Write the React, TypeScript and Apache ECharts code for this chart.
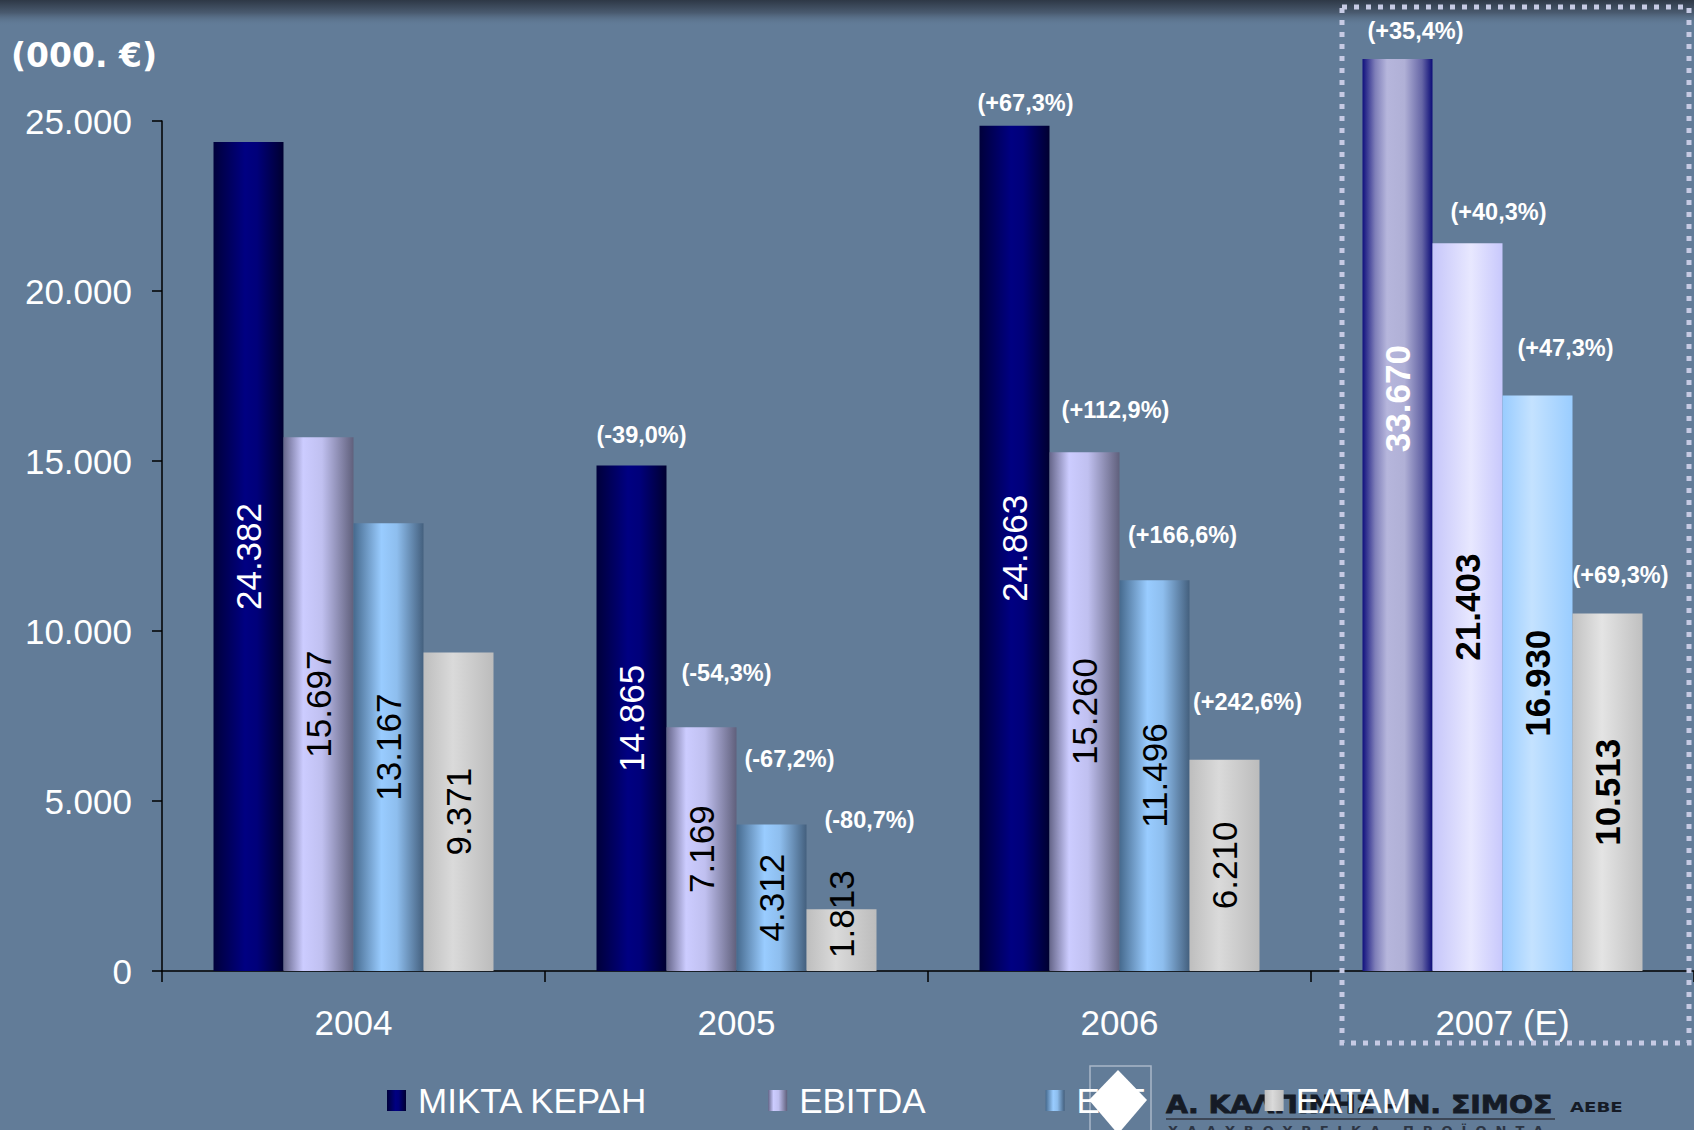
import React, { useEffect, useRef } from "react";
import * as echarts from "echarts";

// ---------- data ----------
const YEARS = ["2004", "2005", "2006", "2007 (E)"];
const SERIES_NAMES = ["ΜΙΚΤΑ ΚΕΡΔΗ", "EBITDA", "EBT", "EATAM"];

const GROSS = [24382, 14865, 24863, 33670];
const EBITDA = [15697, 7169, 15260, 21403];
const EBT = [13167, 4312, 11496, 16930];
const EATAM = [9371, 1813, 6210, 10513];

const GROSS_CHG = [null, -39.0, 67.3, 35.4];
const EBITDA_CHG = [null, -54.3, 112.9, 40.3];
const EBT_CHG = [null, -67.2, 166.6, 47.3];
const EATAM_CHG = [null, -80.7, 242.6, 69.3];

const Y_MIN = 0;
const Y_MAX = 25000;
const Y_STEP = 5000;

const VALUES = [GROSS, EBITDA, EBT, EATAM];
const CHANGES = [GROSS_CHG, EBITDA_CHG, EBT_CHG, EATAM_CHG];

// ---------- layout / style ----------
const W = 1694;
const H = 1130;
const BG = "#627c98";
const FONT = "'Liberation Sans', Arial, sans-serif";
const GRID_LEFT = 162;
const GRID_WIDTH = 1536;
const AXIS_TOP = 121; // pixel of Y_MAX
const BASE_Y = 971; // pixel of 0
const CLIP_TOP = 59; // where the tall forecast bar is cut off
const PX_PER_UNIT = (BASE_Y - AXIS_TOP) / (Y_MAX - Y_MIN);
const CLIP_MAX = (BASE_Y - CLIP_TOP) / PX_PER_UNIT;
const BAR_W = 70;

// nudges [dx, distance above bar top] for the change labels
const PCT_NUDGE = [
  [null, [10, 31], [11, 23], [18, 28]],
  [null, [25, 54], [31, 42], [31, 31]],
  [null, [18, 65], [28, 45], [28, 47]],
  [null, [28, 89], [23, 58], [13, 39]],
];

const NORMAL_FILL = [
  [[0, "#00003a"], [0.45, "#000082"], [0.62, "#00007a"], [1, "#000030"]],
  [[0, "#66668a"], [0.28, "#ccccff"], [0.55, "#c0c0f0"], [1, "#60607c"]],
  [[0, "#466a8e"], [0.4, "#99ccff"], [0.62, "#8ebeee"], [1, "#44607e"]],
  [[0, "#bebebe"], [0.42, "#dadada"], [1, "#bcbcbc"]],
];
const FORECAST_FILL = [
  [[0, "#10107e"], [0.18, "#7e7eb8"], [0.35, "#b6b6dc"], [0.6, "#b0b0d6"], [0.85, "#6666a6"], [1, "#0c0c78"]],
  [[0, "#c6c6fa"], [0.55, "#e8e8ff"], [1, "#c8c8fc"]],
  [[0, "#99ccff"], [0.42, "#c4e2ff"], [1, "#9acdff"]],
  [[0, "#c2c2c2"], [0.42, "#e4e4e4"], [1, "#c0c0c0"]],
];

const grad = (stops: any[]) =>
  new echarts.graphic.LinearGradient(
    0, 0, 1, 0,
    stops.map(([offset, color]: any) => ({ offset, color }))
  );

const fmtNum = (v: number) =>
  String(Math.round(v)).replace(/\B(?=(\d{3})+(?!\d))/g, ".");
const fmtPct = (v: number | null) =>
  v == null ? "" : `(${v > 0 ? "+" : ""}${v.toFixed(1).replace(".", ",")}%)`;

export default function App() {
  const ref = useRef<HTMLDivElement>(null);

  useEffect(() => {
    document.body.style.margin = "0";
    if (!ref.current) return;
    const chart = echarts.init(ref.current, null, { renderer: "svg" });

    const visible = VALUES.map((vals, i) => ({
      type: "bar",
      name: SERIES_NAMES[i],
      xAxisIndex: 1,
      yAxisIndex: 1,
      barWidth: BAR_W,
      barGap: "0%",
      clip: true,
      z: 2,
      itemStyle: { color: grad(NORMAL_FILL[i]) },
      label: {
        show: true,
        position: "top",
        distance: 0,
        color: "#ffffff",
        fontSize: 23.5,
        fontWeight: "bold",
        fontFamily: FONT,
        lineHeight: 24,
        formatter: (p: any) => fmtPct(CHANGES[i][p.dataIndex]),
      },
      data: vals.map((v, j) => {
        const n: any = PCT_NUDGE[i][j];
        return {
          value: v,
          itemStyle: j === 3 ? { color: grad(FORECAST_FILL[i]) } : undefined,
          label:
            CHANGES[i][j] == null
              ? { show: false }
              : { offset: [n[0], 12 - n[1]] },
        };
      }),
    }));

    const valueLabels = VALUES.map((vals, i) => ({
      type: "bar",
      name: "value-" + i,
      xAxisIndex: 2,
      yAxisIndex: 1,
      barWidth: BAR_W,
      barGap: "0%",
      clip: false,
      silent: true,
      z: 3,
      itemStyle: { color: "rgba(0,0,0,0)" },
      label: {
        show: true,
        position: "inside",
        rotate: 90,
        fontSize: 35,
        fontFamily: FONT,
        formatter: (p: any) => fmtNum(p.value),
      },
      data: vals.map((v, j) => {
        const lab: any = {
          color: i === 0 ? "#ffffff" : "#000000",
          fontWeight: j === 3 ? "bold" : "normal",
        };
        if (i === 3 && j === 1) lab.offset = [26, 0];
        return { value: v, label: lab };
      }),
    }));

    const option: any = {
      animation: false,
      backgroundColor: BG,
      title: {
        text: "(000. €)",
        left: 11,
        top: 39,
        padding: 0,
        textStyle: {
          color: "#ffffff",
          fontSize: 33,
          fontWeight: "bold",
          fontFamily: "'DejaVu Sans', Verdana, sans-serif",
        },
      },
      legend: {
        data: SERIES_NAMES,
        left: 387,
        top: 1083,
        padding: 0,
        itemWidth: 19,
        itemHeight: 21,
        itemGap: 120,
        icon: "rect",
        selectedMode: false,
        textStyle: {
          color: "#ffffff",
          fontSize: 35,
          fontFamily: FONT,
          padding: [0, 0, 0, 7],
        },
      },
      grid: [
        { left: GRID_LEFT, top: AXIS_TOP, width: GRID_WIDTH, height: BASE_Y - AXIS_TOP },
        { left: GRID_LEFT, top: CLIP_TOP, width: GRID_WIDTH, height: BASE_Y - CLIP_TOP },
      ],
      xAxis: [
        {
          type: "category",
          gridIndex: 0,
          data: YEARS,
          axisLine: { show: true, lineStyle: { color: "#000000", width: 1.5 } },
          axisTick: { show: true, length: 11, lineStyle: { color: "#000000", width: 1.5 } },
          axisLabel: { color: "#ffffff", fontSize: 35, fontFamily: FONT, margin: 34 },
          splitLine: { show: false },
        },
        { type: "category", gridIndex: 1, data: YEARS, show: false },
        { type: "category", gridIndex: 1, data: YEARS, show: false, position: "top" },
      ],
      yAxis: [
        {
          type: "value",
          gridIndex: 0,
          min: Y_MIN,
          max: Y_MAX,
          interval: Y_STEP,
          axisLine: { show: true, lineStyle: { color: "#000000", width: 1.5 } },
          axisTick: { show: true, length: 10, lineStyle: { color: "#000000", width: 1.5 } },
          splitLine: { show: false },
          axisLabel: {
            color: "#ffffff",
            fontSize: 35,
            fontFamily: FONT,
            margin: 30,
            formatter: (v: number) => fmtNum(v),
          },
        },
        { type: "value", gridIndex: 1, min: Y_MIN, max: CLIP_MAX, show: false, splitLine: { show: false } },
      ],
      series: [...visible, ...valueLabels],
      graphic: [
        {
          type: "rect",
          z: 0,
          shape: { x: 0, y: 0, width: W, height: 26 },
          style: {
            fill: new echarts.graphic.LinearGradient(0, 0, 0, 1, [
              { offset: 0, color: "#2e3846" },
              { offset: 0.5, color: "#4a5b70" },
              { offset: 1, color: "rgba(98,124,152,0)" },
            ]),
          },
        },
        {
          type: "rect",
          z: 20,
          shape: { x: 1342, y: 7, width: 347, height: 1036 },
          style: { fill: "none", stroke: "#c6cae4", lineWidth: 5, lineDash: [5, 7] },
        },
        // logo
        {
          type: "polyline",
          z: 1,
          shape: { points: [[1090, 1146], [1090, 1066], [1151, 1066], [1151, 1146]] },
          style: { stroke: "#a9b6c8", lineWidth: 1.5, fill: "none" },
        },
        {
          type: "polygon",
          z: 1,
          shape: { points: [[1118, 1070], [1147, 1100], [1118, 1134], [1089, 1100]] },
          style: { fill: "#ffffff" },
        },
        {
          type: "text",
          z: 1,
          x: 1166,
          y: 1105,
          scaleX: 1.18,
          style: {
            text: "Α. ΚΑΛΠΙΝΗΣ - Ν. ΣΙΜΟΣ",
            fill: "#151b26",
            font: "900 24px 'DejaVu Sans', sans-serif",
            stroke: "#151b26",
            lineWidth: 0.8,
            verticalAlign: "middle",
            align: "left",
          },
        },
        {
          type: "text",
          z: 1,
          x: 1570,
          y: 1107,
          scaleX: 1.3,
          style: {
            text: "ΑΕΒΕ",
            fill: "#151b26",
            font: "bold 14px 'DejaVu Sans', sans-serif",
            verticalAlign: "middle",
            align: "left",
          },
        },
        {
          type: "line",
          z: 1,
          shape: { x1: 1166, y1: 1119, x2: 1555, y2: 1119 },
          style: { stroke: "#3c4656", lineWidth: 2 },
        },
        {
          type: "text",
          z: 1,
          x: 1168,
          y: 1124,
          style: {
            text: "Χ  Α  Λ  Υ  Β  Ο  Υ  Ρ  Γ  Ι  Κ  Α     Π  Ρ  Ο  Ϊ  Ο  Ν  Τ  Α",
            fill: "#2c3544",
            font: "bold 13px 'DejaVu Sans', sans-serif",
            verticalAlign: "top",
            align: "left",
          },
        },
      ],
    };

    chart.setOption(option);
    return () => chart.dispose();
  }, []);

  return <div ref={ref} style={{ width: W, height: H }} />;
}
